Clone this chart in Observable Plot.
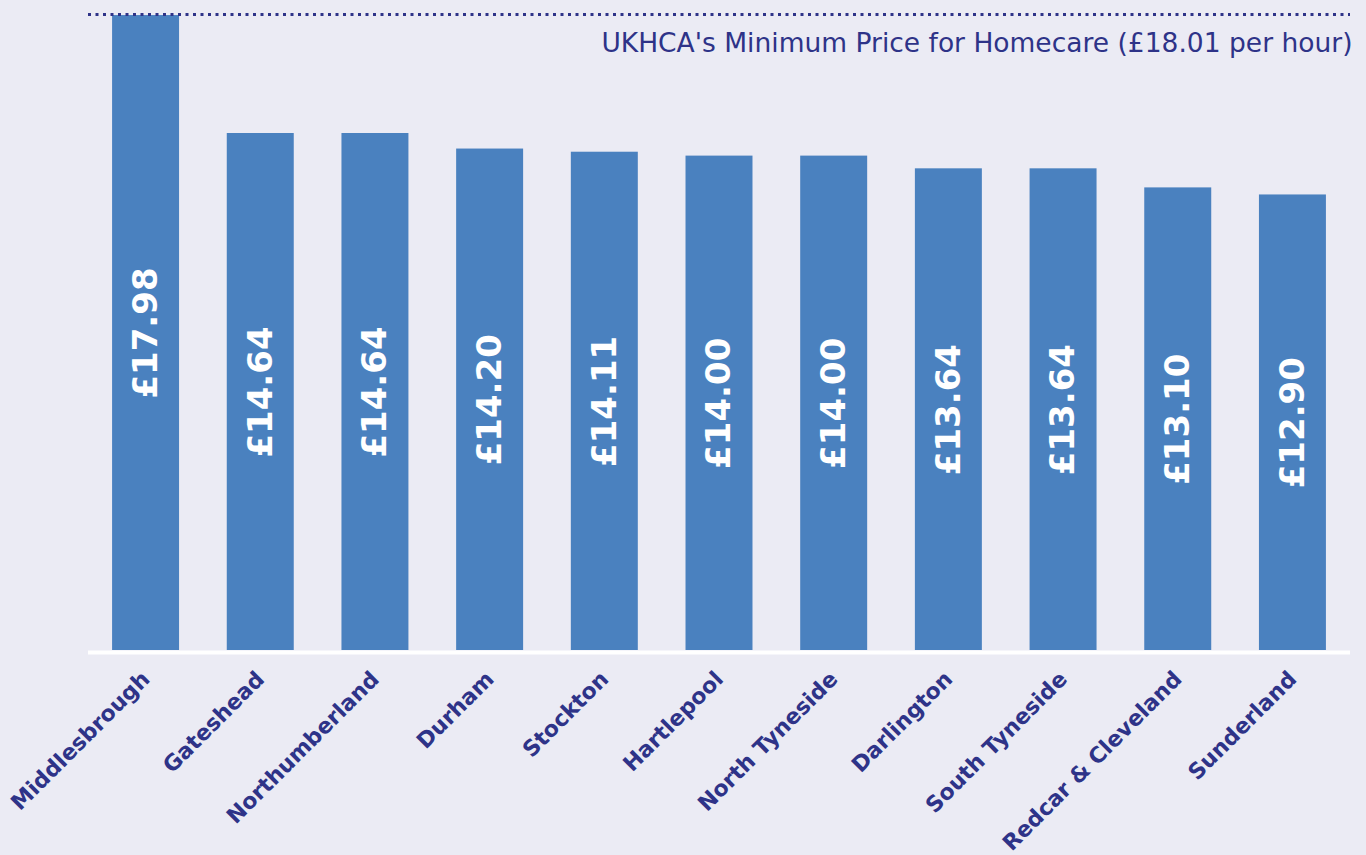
<!DOCTYPE html>
<html>
<head>
<meta charset="utf-8">
<script src="https://cdn.jsdelivr.net/npm/d3@7"></script>
<script src="https://cdn.jsdelivr.net/npm/@observablehq/plot@0.6"></script>
<style>
  html, body { margin: 0; padding: 0; background: #EBEBF4; }
  #chart svg { display: block; }
</style>
</head>
<body>
<div id="chart"></div>
<script>
const areas = ["Middlesbrough", "Gateshead", "Northumberland", "Durham", "Stockton", "Hartlepool", "North Tyneside", "Darlington", "South Tyneside", "Redcar & Cleveland", "Sunderland"];
const prices = [17.98, 14.64, 14.64, 14.20, 14.11, 14.00, 14.00, 13.64, 13.64, 13.10, 12.90];
const minimumPrice = 18.01;
const minimumLabel = "UKHCA's Minimum Price for Homecare (£18.01 per hour)";

const data = areas.map((a, i) => ({area: a, price: prices[i]}));
const navy = "#2E3388";
const barBlue = "#4A81BF";

const chart = Plot.plot({
  width: 1366,
  height: 855,
  marginTop: 14,
  marginBottom: 205,
  marginLeft: 88,
  marginRight: 16,
  style: {background: "#EBEBF4", fontFamily: "'DejaVu Sans', Verdana, sans-serif"},
  x: {domain: areas, paddingInner: 0.416, paddingOuter: 0.21, round: false, label: null},
  y: {domain: [0, minimumPrice], axis: null},
  marks: [
    Plot.barY(data, {x: "area", y: "price", fill: barBlue}),
    Plot.ruleY([0], {stroke: "white", strokeWidth: 4, dy: 2}),
    Plot.ruleY([minimumPrice], {stroke: navy, strokeWidth: 3, strokeDasharray: "3,4.5"}),
    Plot.text([minimumLabel], {y: [minimumPrice], frameAnchor: "right", text: d => d, textAnchor: "end", dx: 2, dy: 29, fill: navy, fontSize: 26.5}),
    Plot.text(data, {x: "area", y: d => d.price / 2, text: d => "£" + d.price.toFixed(2), rotate: -90, fill: "white", fontSize: 34, fontWeight: "bold"}),
    Plot.axisX({tickSize: 0, tickRotate: -45, tickPadding: 25, fontSize: 22, fontWeight: "bold", color: navy, label: null})
  ]
});
document.getElementById("chart").appendChild(chart);
</script>
</body>
</html>
